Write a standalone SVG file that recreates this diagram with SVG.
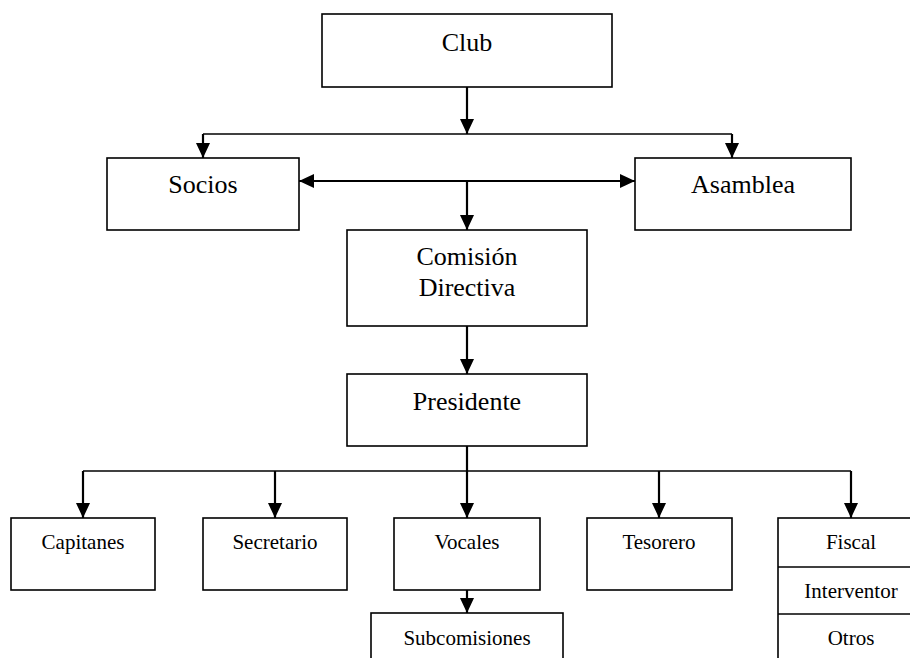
<svg xmlns="http://www.w3.org/2000/svg" width="910" height="658" viewBox="0 0 910 658">
<style>
.box{fill:#fff;stroke:#000;stroke-width:1.6}
.t{font-family:'Liberation Serif','Times New Roman','DejaVu Serif',serif;fill:#000;text-anchor:middle}
.big{font-size:26px}
.sm{font-size:21px}
.thin{fill:none;stroke:#000;stroke-width:1.4}
.arr{fill:none;stroke:#000;stroke-width:2.2;marker-end:url(#ah)}
.arr2{fill:none;stroke:#000;stroke-width:2.2;marker-end:url(#ah);marker-start:url(#ah)}
</style>
<defs>
<marker id="ah" viewBox="0 0 15 14" refX="15" refY="7" markerWidth="15" markerHeight="14" markerUnits="userSpaceOnUse" orient="auto-start-reverse">
<path d="M0,0 L15,7 L0,14 z" fill="#000"/>
</marker>
</defs>
<rect width="910" height="658" fill="#fff"/>
<g id="connectors">
<line class="arr" x1="467" y1="87" x2="467" y2="134"/>
<polyline class="thin" points="203,134 732,134"/>
<line class="arr" x1="203" y1="134" x2="203" y2="158"/>
<line class="arr" x1="732" y1="134" x2="732" y2="158"/>
<line class="arr2" x1="299" y1="181" x2="635" y2="181"/>
<line class="arr" x1="467" y1="181" x2="467" y2="230"/>
<line class="arr" x1="467" y1="326" x2="467" y2="374"/>
<line class="arr" x1="467" y1="446" x2="467" y2="518"/>
<polyline class="thin" points="83,471 851,471"/>
<line class="arr" x1="83" y1="471" x2="83" y2="518"/>
<line class="arr" x1="275" y1="471" x2="275" y2="518"/>
<line class="arr" x1="659" y1="471" x2="659" y2="518"/>
<line class="arr" x1="851" y1="471" x2="851" y2="518"/>
<line class="arr" x1="467" y1="590" x2="467" y2="613"/>
</g>
<g id="club"><rect class="box" x="322" y="14" width="290" height="73"/><text class="t big" x="467" y="51" font-family="Liberation Serif, serif">Club</text></g>
<g id="socios"><rect class="box" x="107" y="158" width="192" height="72"/><text class="t big" x="203" y="193">Socios</text></g>
<g id="asamblea"><rect class="box" x="635" y="158" width="216" height="72"/><text class="t big" x="743" y="193">Asamblea</text></g>
<g id="comision"><rect class="box" x="347" y="230" width="240" height="96"/><text class="t big" x="467" y="265">Comisión</text><text class="t big" x="467" y="296">Directiva</text></g>
<g id="presidente"><rect class="box" x="347" y="374" width="240" height="72"/><text class="t big" x="467" y="410">Presidente</text></g>
<g id="capitanes"><rect class="box" x="11" y="518" width="144" height="72"/><text class="t sm" x="83" y="549">Capitanes</text></g>
<g id="secretario"><rect class="box" x="203" y="518" width="144" height="72"/><text class="t sm" x="275" y="549">Secretario</text></g>
<g id="vocales"><rect class="box" x="394" y="518" width="146" height="72"/><text class="t sm" x="467" y="549">Vocales</text></g>
<g id="tesorero"><rect class="box" x="587" y="518" width="145" height="72"/><text class="t sm" x="659" y="549">Tesorero</text></g>
<g id="subcomisiones"><rect class="box" x="371" y="613" width="192" height="60"/><text class="t sm" x="467" y="645">Subcomisiones</text></g>
<g id="fiscal"><rect class="box" x="778" y="518" width="146" height="155"/><line class="thin" x1="778" y1="567" x2="924" y2="567"/><line class="thin" x1="778" y1="614" x2="924" y2="614"/><text class="t sm" x="851" y="549">Fiscal</text><text class="t sm" x="851" y="598">Interventor</text><text class="t sm" x="851" y="645">Otros</text></g>
</svg>
